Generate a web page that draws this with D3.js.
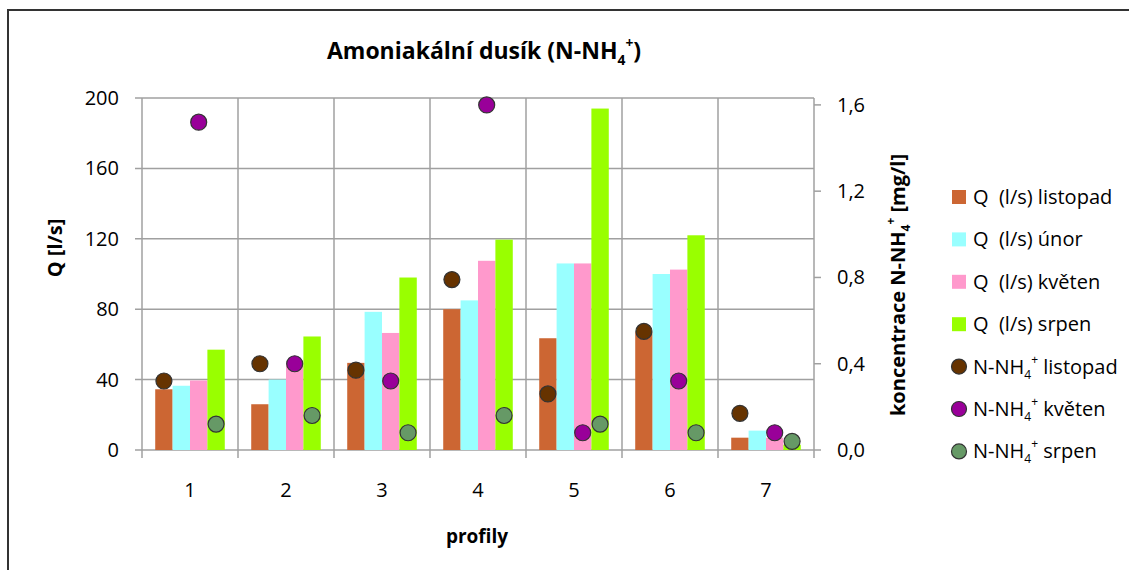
<!DOCTYPE html>
<html>
<head>
<meta charset="utf-8">
<script src="https://cdn.jsdelivr.net/npm/d3@7"></script>
<style>
  body { margin: 0; background: #fff; }
  svg text { font-family: "Open Sans", "Lato", sans-serif; fill: #000; }
</style>
</head>
<body>
<svg class="chart_svg" width="1129" height="570"></svg>
<script>
/* Data */
let categories = ["1", "2", "3", "4", "5", "6", "7"];
let q_listopad = [34.5, 26, 49.5, 80, 63.5, 67, 7];
let q_unor     = [36.5, 40, 78.5, 85, 106, 100, 11];
let q_kveten   = [39.5, 49, 66.5, 107.5, 106, 102.5, 7];
let q_srpen    = [57, 64.5, 98, 119.5, 194, 122, 3];
let n_listopad = [0.32, 0.40, 0.37, 0.79, 0.26, 0.55, 0.17];
let n_kveten   = [1.52, 0.40, 0.32, 1.60, 0.08, 0.32, 0.08];
let n_srpen    = [0.12, 0.16, 0.08, 0.16, 0.12, 0.08, 0.04];
let left_ticks = [0, 40, 80, 120, 160, 200];
let right_ticks = [0, 0.4, 0.8, 1.2, 1.6];

let bar_series = [
    {key: "listopad", label: "Q  (l/s) listopad", values: q_listopad, color: "#CC6633"},
    {key: "unor", label: "Q  (l/s) únor", values: q_unor, color: "#99FFFF"},
    {key: "kveten", label: "Q  (l/s) květen", values: q_kveten, color: "#FF99CC"},
    {key: "srpen", label: "Q  (l/s) srpen", values: q_srpen, color: "#99FF00"}
];
let dot_series = [
    {bar: "listopad", label: " listopad", values: n_listopad, color: "#663300"},
    {bar: "kveten", label: " květen", values: n_kveten, color: "#990099"},
    {bar: "srpen", label: " srpen", values: n_srpen, color: "#669966"}
];

let svg = d3.select("svg.chart_svg");
let plot = {left: 142, right: 814, top: 98, bottom: 450};
let grid_color = "#A0A0A0";
let fs = 20;   // label font size

// outer frame (cut off at right and bottom like the source picture)
svg.append("rect").attr("x", 8).attr("y", 10).attr("width", 1300).attr("height", 700)
    .attr("fill", "none").attr("stroke", "#333").attr("stroke-width", 2);

let x = d3.scaleBand().domain(categories).range([plot.left, plot.right]).padding(0);
let x1 = d3.scaleBand().domain(bar_series.map(s => s.key)).range([0, x.bandwidth()])
    .paddingInner(0).paddingOuter(0.76);
let y_left = d3.scaleLinear().domain([0, 200]).range([plot.bottom, plot.top]);
let y_right = d3.scaleLinear().domain([0, 1.632]).range([plot.bottom, plot.top]);

// grid
let grid = svg.append("g").attr("stroke", grid_color).attr("stroke-width", 1.5);
grid.selectAll("line.h").data(left_ticks).enter().append("line")
    .attr("x1", plot.left - 7).attr("x2", plot.right)
    .attr("y1", d => y_left(d)).attr("y2", d => y_left(d));
let v_lines = categories.map(c => x(c)).concat([plot.right]);
grid.selectAll("line.v").data(v_lines).enter().append("line")
    .attr("x1", d => d).attr("x2", d => d)
    .attr("y1", plot.top)
    .attr("y2", plot.bottom + 8);
grid.selectAll("line.r").data(right_ticks).enter().append("line")
    .attr("x1", plot.right).attr("x2", plot.right + 7)
    .attr("y1", d => y_right(d)).attr("y2", d => y_right(d));

// bars
bar_series.forEach(function(s){
    svg.append("g").selectAll("rect").data(s.values).enter().append("rect")
        .attr("x", (d, i) => x(categories[i]) + x1(s.key))
        .attr("width", x1.bandwidth())
        .attr("y", d => y_left(d))
        .attr("height", d => plot.bottom - y_left(d))
        .attr("fill", s.color);
});

// dots on the secondary axis
dot_series.forEach(function(s){
    svg.append("g").selectAll("circle").data(s.values).enter().append("circle")
        .attr("cx", (d, i) => x(categories[i]) + x1(s.bar) + x1.bandwidth() / 2)
        .attr("cy", d => y_right(d))
        .attr("r", 8)
        .attr("fill", s.color)
        .attr("stroke", "#333").attr("stroke-width", 1.2);
});

// axis labels
svg.append("g").selectAll("text").data(left_ticks).enter().append("text")
    .attr("x", 119).attr("y", d => y_left(d)).attr("dy", "0.35em")
    .attr("text-anchor", "end").attr("font-size", fs).text(d => d);

let comma = d3.format(".1f");
svg.append("g").selectAll("text").data(right_ticks).enter().append("text")
    .attr("x", 837).attr("y", d => y_right(d)).attr("dy", "0.35em")
    .attr("font-size", fs).text(d => comma(d).replace(".", ","));

svg.append("g").selectAll("text").data(categories).enter().append("text")
    .attr("x", d => x(d) + x.bandwidth() / 2).attr("y", 490).attr("dy", "0.35em")
    .attr("text-anchor", "middle").attr("font-size", fs).text(d => d);

// text with N-NH4+ (subscript 4, superscript +)
function add_ion(text, before, after, size){
    text.append("tspan").text(before + "N-NH");
    text.append("tspan").attr("font-size", size * 0.6).attr("dy", size * 0.25).text("4");
    text.append("tspan").attr("font-size", size * 0.6).attr("dy", -size * 0.75).text("+");
    text.append("tspan").attr("dy", size * 0.5).text(after);
}

let title = svg.append("text").attr("x", 484).attr("y", 59)
    .attr("text-anchor", "middle").attr("font-size", 23).attr("font-weight", "bold");
add_ion(title, "Amoniakální dusík (", ")", 23);

svg.append("text").attr("transform", "translate(62,248) rotate(-90)")
    .attr("text-anchor", "middle").attr("font-size", fs).attr("font-weight", "bold")
    .text("Q [l/s]");

let right_title = svg.append("text").attr("transform", "translate(905,285) rotate(-90)")
    .attr("text-anchor", "middle").attr("font-size", 20).attr("font-weight", "bold");
add_ion(right_title, "koncentrace ", " [mg/l]", 20);

svg.append("text").attr("x", 477).attr("y", 536).attr("dy", "0.35em")
    .attr("text-anchor", "middle").attr("font-size", 19).attr("font-weight", "bold")
    .text("profily");

// legend
let legend = svg.append("g");
let leg_y = d3.scaleLinear().domain([0, 1]).range([197, 239.4]);
bar_series.forEach(function(s, i){
    legend.append("rect").attr("x", 952).attr("y", leg_y(i) - 7)
        .attr("width", 14).attr("height", 14).attr("fill", s.color);
    legend.append("text").attr("x", 973).attr("y", leg_y(i)).attr("dy", "0.35em")
        .attr("font-size", fs).attr("xml:space", "preserve").text(s.label);
});
dot_series.forEach(function(s, j){
    let i = j + bar_series.length;
    legend.append("circle").attr("cx", 959).attr("cy", leg_y(i)).attr("r", 7.5)
        .attr("fill", s.color).attr("stroke", "#333").attr("stroke-width", 1.2);
    let t = legend.append("text").attr("x", 973).attr("y", leg_y(i)).attr("dy", "0.35em")
        .attr("font-size", fs).attr("xml:space", "preserve");
    add_ion(t, "", s.label, fs);
});
</script>
</body>
</html>
